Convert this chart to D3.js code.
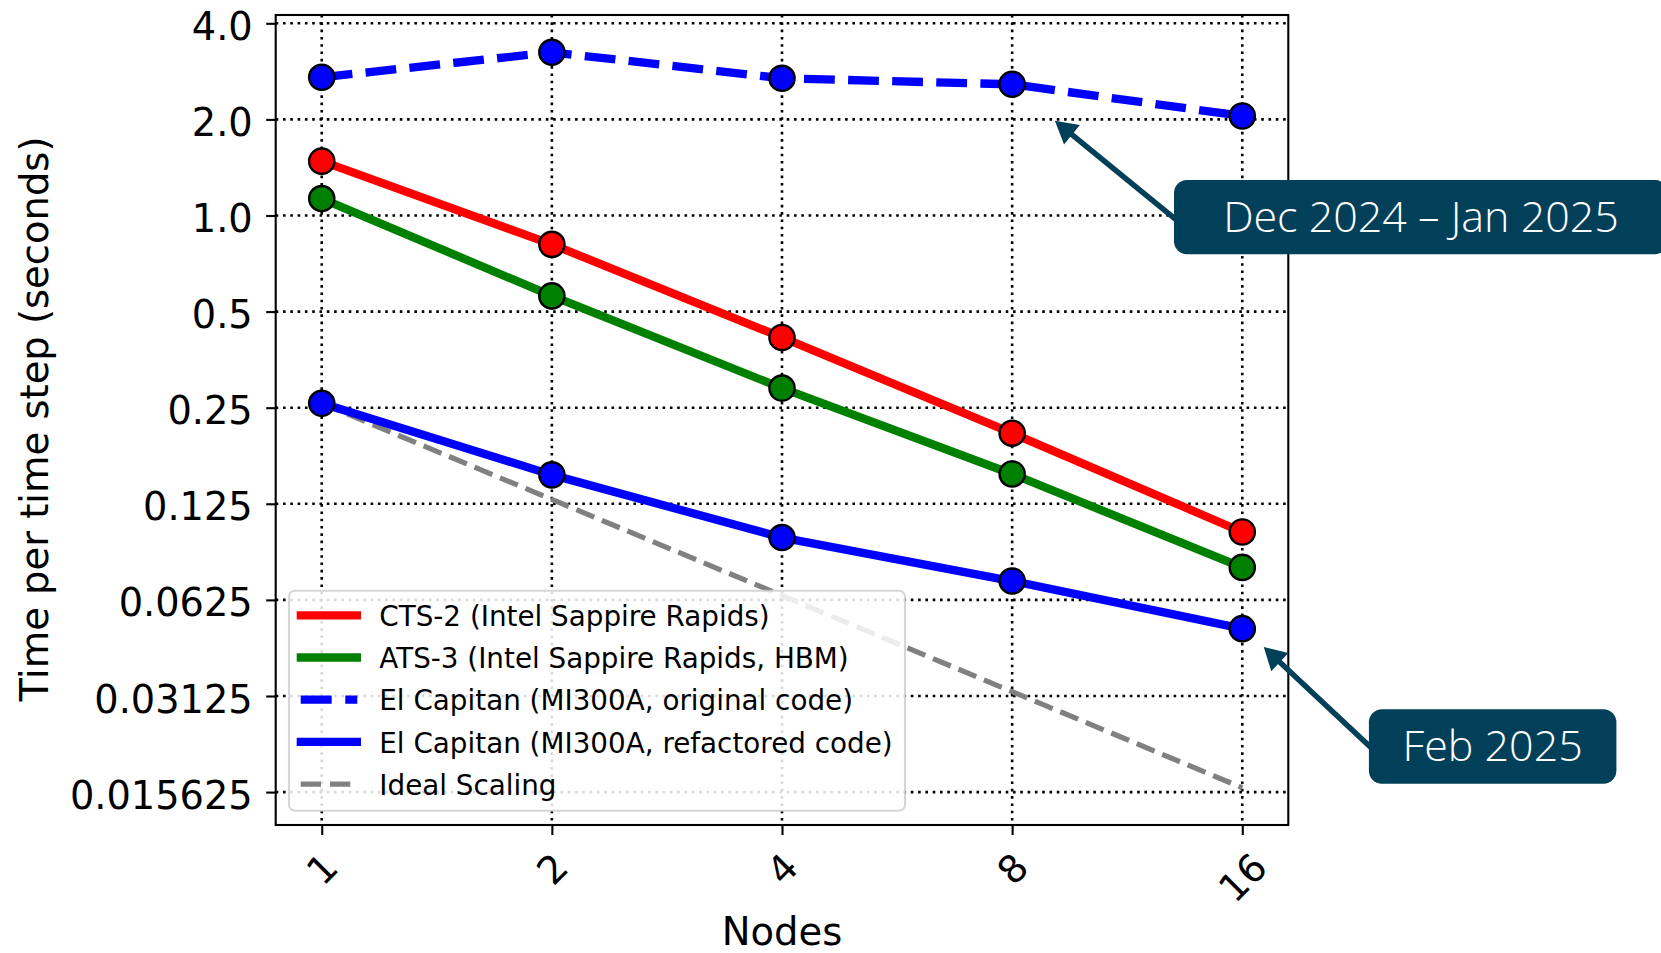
<!DOCTYPE html>
<html>
<head>
<meta charset="utf-8">
<script src="https://cdn.jsdelivr.net/npm/d3@7"></script>
<style>
  html, body { margin: 0; padding: 0; background: #ffffff; }
  svg { display: block; }
  text { font-family: "DejaVu Sans", sans-serif; fill: #000; }
  .callout text { font-family: "Open Sans", sans-serif; font-weight: 300; fill: #ffffff; }
</style>
</head>
<body>
<svg id="chart" width="1661" height="953"></svg>
<script>
// ---- data: time per step (s) against node count ----
const nodes = [1, 2, 4, 8, 16];
const cts2 = [1.48, 0.812, 0.415, 0.208, 0.102];
const ats3 = [1.13, 0.56, 0.288, 0.155, 0.079];
const elcapOriginal = [2.71, 3.245, 2.69, 2.576, 2.05];
const elcapRefactored = [0.258, 0.154, 0.098, 0.0716, 0.0508];
const idealScaling = [0.258, 0.129, 0.0645, 0.03225, 0.016125];

const xTickLabels = ["1", "2", "4", "8", "16"];
const yTickValues = [4.0, 2.0, 1.0, 0.5, 0.25, 0.125, 0.0625, 0.03125, 0.015625];
const yTickLabels = ["4.0", "2.0", "1.0", "0.5", "0.25", "0.125", "0.0625", "0.03125", "0.015625"];

const seriesNames = [
  "CTS-2 (Intel Sappire Rapids)",
  "ATS-3 (Intel Sappire Rapids, HBM)",
  "El Capitan (MI300A, original code)",
  "El Capitan (MI300A, refactored code)",
  "Ideal Scaling"
];

// callouts: label, anchor point of the arrow in data units
const calloutLabels = ["Dec 2024 \u2013 Jan 2025", "Feb 2025"];
const calloutTargets = [[9.1, 1.98], [17.07, 0.0445]];

// ---- layout ----
const plot = { left: 275.7, right: 1288.3, top: 15, bottom: 825 };
const svg = d3.select("#chart");

const x = d3.scaleLog().base(2)
  .domain([Math.pow(2, -0.2), Math.pow(2, 4.2)])
  .range([plot.left, plot.right]);
const y = d3.scaleLog().base(2)
  .domain([Math.pow(2, -6.3424), Math.pow(2, 2.0864)])
  .range([plot.bottom, plot.top]);

const LW = 8.33;      // main line width
const styles = [
  { values: cts2, color: "#ff0000", dash: null, marker: true, width: LW },
  { values: ats3, color: "#008000", dash: null, marker: true, width: LW },
  { values: elcapOriginal, color: "#0000ff", dash: "30.8 13.3", marker: true, width: LW },
  { values: elcapRefactored, color: "#0000ff", dash: null, marker: true, width: LW },
  { values: idealScaling, color: "#808080", dash: "19.3 8.3", marker: false, width: 5.2 }
];

// ---- grid ----
const grid = svg.append("g").attr("class", "grid")
  .attr("stroke", "#000").attr("stroke-width", 2.6).attr("stroke-dasharray", "2.6 4.7");
grid.selectAll("line.h").data(yTickValues).join("line")
  .attr("x1", plot.left).attr("x2", plot.right)
  .attr("y1", d => y(d)).attr("y2", d => y(d));
grid.selectAll("line.v").data(nodes).join("line")
  .attr("y1", plot.top).attr("y2", plot.bottom)
  .attr("x1", d => x(d)).attr("x2", d => x(d));

// ---- series ----
const lineGen = d3.line().x(d => x(d[0])).y(d => y(d[1]));
const drawOrder = [4, 0, 1, 2, 3];
const seriesG = svg.append("g").attr("class", "series");
drawOrder.forEach(i => {
  const s = styles[i];
  const pts = nodes.map((n, k) => [n, s.values[k]]);
  const g = seriesG.append("g");
  g.append("path")
    .attr("d", lineGen(pts))
    .attr("fill", "none")
    .attr("stroke", s.color)
    .attr("stroke-width", s.width)
    .attr("stroke-dasharray", s.dash)
    .attr("stroke-linejoin", "round");
  if (s.marker) {
    g.selectAll("circle").data(pts).join("circle")
      .attr("cx", d => x(d[0])).attr("cy", d => y(d[1]))
      .attr("r", 12.6)
      .attr("fill", s.color)
      .attr("stroke", "#000")
      .attr("stroke-width", 2.4);
  }
});

// ---- frame & ticks ----
svg.append("rect")
  .attr("x", plot.left).attr("y", plot.top)
  .attr("width", plot.right - plot.left).attr("height", plot.bottom - plot.top)
  .attr("fill", "none").attr("stroke", "#000").attr("stroke-width", 2.1);

const FS = 38.3;
const yAxis = d3.axisLeft(y).tickValues(yTickValues)
  .tickFormat((d, i) => yTickLabels[i]).tickSize(9.5).tickPadding(13.5);
const yG = svg.append("g").attr("transform", `translate(${plot.left},0)`).call(yAxis);
yG.select(".domain").remove();
yG.selectAll(".tick line").attr("stroke", "#000").attr("stroke-width", 2.1);
yG.selectAll(".tick text")
  .attr("font-family", "DejaVu Sans").attr("font-size", FS)
  .attr("dy", "0.42em").attr("fill", "#000");

const xAxis = d3.axisBottom(x).tickValues(nodes)
  .tickFormat((d, i) => xTickLabels[i]).tickSize(10);
const xG = svg.append("g").attr("transform", `translate(0,${plot.bottom})`).call(xAxis);
xG.select(".domain").remove();
xG.selectAll(".tick line").attr("stroke", "#000").attr("stroke-width", 2.1);
// rotated 45° labels: rotated bounding box hangs below the tick
xG.selectAll(".tick text").each(function () {
  const t = d3.select(this)
    .attr("font-family", "DejaVu Sans").attr("font-size", FS)
    .attr("fill", "#000").attr("text-anchor", "middle")
    .attr("y", 0).attr("dy", "0.35em");
  const w = this.getComputedTextLength();
  const h = FS * 1.164;
  const H = (w + h) / Math.SQRT2;
  const cy = 19.5 + H / 2;
  t.attr("transform", `translate(0,${cy}) rotate(-45)`);
});

// axis titles
svg.append("text")
  .attr("x", (plot.left + plot.right) / 2).attr("y", 944.5)
  .attr("text-anchor", "middle").attr("font-size", 38.5)
  .text("Nodes");
svg.append("text")
  .attr("transform", `translate(47.5,${(plot.top + plot.bottom) / 2 - 1}) rotate(-90)`)
  .attr("text-anchor", "middle").attr("font-size", 38.5)
  .text("Time per time step (seconds)");

// ---- legend ----
const legend = svg.append("g").attr("class", "legend");
const lg = { x: 289, y: 590.7, w: 616, h: 220, row0: 615.3, step: 42.2 };
legend.append("rect")
  .attr("x", lg.x).attr("y", lg.y).attr("width", lg.w).attr("height", lg.h)
  .attr("rx", 6).attr("ry", 6)
  .attr("fill", "#ffffff").attr("fill-opacity", 0.85)
  .attr("stroke", "#cccccc").attr("stroke-opacity", 0.8).attr("stroke-width", 2.1);
const handleSpans = [[296.7, 361], [296.7, 361], [300.7, 357.3], [296.7, 361], [300.7, 350.7]];
const handleDash = [null, null, "31 13.6", null, "20.3 9"];
seriesNames.forEach((name, i) => {
  const s = styles[i];
  const ry = lg.row0 + i * lg.step;
  legend.append("line")
    .attr("x1", handleSpans[i][0]).attr("x2", handleSpans[i][1])
    .attr("y1", ry).attr("y2", ry)
    .attr("stroke", s.color).attr("stroke-width", s.width)
    .attr("stroke-dasharray", handleDash[i]);
  legend.append("text")
    .attr("x", 379.3).attr("y", ry + 10.7)
    .attr("font-size", 27.8)
    .text(name);
});

// ---- callouts ----
const calloutColor = "#02405a";
const calloutBoxes = [
  { x: 1174, y: 180, w: 494, h: 74.3 },
  { x: 1368.9, y: 709.3, w: 247.5, h: 74.5 }
];
const callouts = svg.append("g").attr("class", "callout");
calloutLabels.forEach((label, i) => {
  const b = calloutBoxes[i];
  const tip = [x(calloutTargets[i][0]), y(calloutTargets[i][1])];
  const tail = [b.x + 2, b.y + b.h / 2 + (i === 0 ? 2.5 : 1)];
  const dx = tip[0] - tail[0], dy = tip[1] - tail[1];
  const len = Math.hypot(dx, dy);
  const ux = dx / len, uy = dy / len;
  const headLen = 22, headHalf = 12.5;
  const base = [tip[0] - ux * headLen, tip[1] - uy * headLen];
  callouts.append("line")
    .attr("x1", tail[0]).attr("y1", tail[1])
    .attr("x2", base[0] + ux * 2).attr("y2", base[1] + uy * 2)
    .attr("stroke", calloutColor).attr("stroke-width", 5.5);
  callouts.append("polygon")
    .attr("points", [
      tip,
      [base[0] - uy * headHalf, base[1] + ux * headHalf],
      [base[0] + uy * headHalf, base[1] - ux * headHalf]
    ].map(p => p.join(",")).join(" "))
    .attr("fill", calloutColor);
  callouts.append("rect")
    .attr("x", b.x).attr("y", b.y).attr("width", b.w).attr("height", b.h)
    .attr("rx", 13).attr("ry", 13)
    .attr("fill", calloutColor);
  callouts.append("text")
    .attr("x", b.x + b.w / 2).attr("y", b.y + b.h / 2 + 14.4)
    .attr("text-anchor", "middle")
    .attr("font-size", 43)
    .text(label);
});
</script>
</body>
</html>
